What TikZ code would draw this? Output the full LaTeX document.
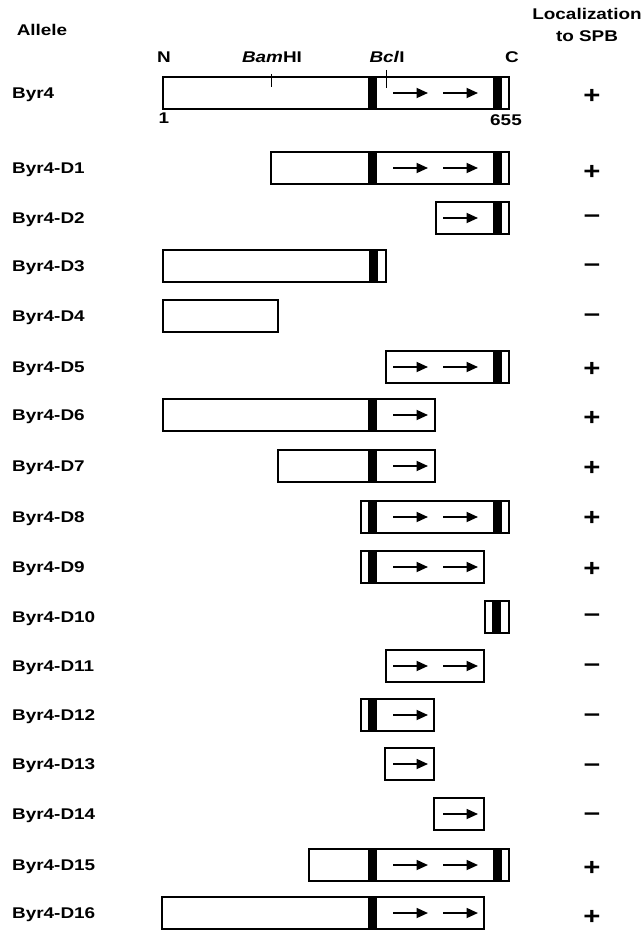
\documentclass[tikz,border=0pt]{standalone}
\usepackage{fontspec}
\setmainfont{Liberation Sans}
\newfontfamily\labfam[FakeStretch=1.22]{Liberation Sans}
\usetikzlibrary{arrows.meta}
\newcommand\labsize{\labfam\bfseries\fontsize{15.5}{18}\selectfont}
\newcommand\signsize{\labfam\bfseries\fontsize{24}{26}\selectfont}
\tikzset{
  lab/.style={anchor=base west, inner sep=0pt, font=\labsize},
  toplab/.style={anchor=base, inner sep=0pt, font=\labsize},
  sgn/.style={inner sep=0pt, font=\signsize},
  dom/.style={draw=black, line width=1.1pt, fill=white},
  blk/.style={fill=black, draw=none},
  arr/.style={-{Triangle[length=11.5pt,width=10pt]}, line width=1.8pt},
  tick/.style={line width=1pt}
}
% #1 centre y, #2 left x, #3 right x
\newcommand\dombox[3]{\draw[dom] (#2,#1-16) rectangle (#3,#1+16);}
% #1 centre y, #2 left x of black band
\newcommand\band[2]{\fill[blk] (#2,#1-16) rectangle (#2+8,#1+16);\draw[dom,fill=none] (#2,#1-16) -- (#2,#1+16);}
\newcommand\arrA[1]{\draw[arr] (393,#1) -- (428,#1);}
\newcommand\arrB[1]{\draw[arr] (443,#1) -- (478,#1);}
\newcommand\rowlab[3]{\node[lab] (#1) at (12,#2+5.5) {#3};}
\begin{document}
\begin{tikzpicture}[x=1pt,y=-1pt]
\useasboundingbox (0,0) rectangle (642,931);
\fill[white] (0,0) rectangle (642,931);

% headers
\node[toplab] (hallele) at (42,36) {Allele};
\node[toplab] (hloc) at (587,20) {Localization};
\node[toplab] (hspb) at (587,42) {to SPB};

% top labels of Byr4
\node[toplab] (nN) at (164,63) {N};
\node[toplab] (nBam) at (272,63) {\textit{Bam}HI};
\node[toplab] (nBcl) at (387,63) {\textit{Bcl}I};
\node[toplab] (nC) at (512,63) {C};
\node[toplab] (n1) at (164,124) {1};
\node[toplab] (n655) at (506,126) {655};

% Byr4
\rowlab{l0}{93}{Byr4}
\dombox{93}{163}{509}\band{93}{369}\band{93}{494}\arrA{93}\arrB{93}
\draw[tick] (271,74) -- (271,87);
\draw[tick] (386,70) -- (386,88);
\node[sgn] (s0) at (592,96) {+};

% D1
\rowlab{l1}{168}{Byr4-D1}
\dombox{168}{271}{509}\band{168}{369}\band{168}{494}\arrA{168}\arrB{168}
\node[sgn] (s1) at (592,172) {+};

% D2
\rowlab{l2}{218}{Byr4-D2}
\dombox{218}{436}{509}\band{218}{494}\arrB{218}
\node[sgn] (s2) at (592,219) {–};

% D3
\rowlab{l3}{266}{Byr4-D3}
\dombox{266}{163}{386}\band{266}{370}
\node[sgn] (s3) at (592,268) {–};

% D4
\rowlab{l4}{316}{Byr4-D4}
\dombox{316}{163}{278}
\node[sgn] (s4) at (592,318) {–};

% D5
\rowlab{l5}{367}{Byr4-D5}
\dombox{367}{386}{509}\band{367}{494}\arrA{367}\arrB{367}
\node[sgn] (s5) at (592,369) {+};

% D6
\rowlab{l6}{415}{Byr4-D6}
\dombox{415}{163}{435}\band{415}{369}\arrA{415}
\node[sgn] (s6) at (592,418) {+};

% D7
\rowlab{l7}{466}{Byr4-D7}
\dombox{466}{278}{435}\band{466}{369}\arrA{466}
\node[sgn] (s7) at (592,468) {+};

% D8
\rowlab{l8}{517}{Byr4-D8}
\dombox{517}{361}{509}\band{517}{369}\band{517}{494}\arrA{517}\arrB{517}
\node[sgn] (s8) at (592,518) {+};

% D9
\rowlab{l9}{567}{Byr4-D9}
\dombox{567}{361}{484}\band{567}{369}\arrA{567}\arrB{567}
\node[sgn] (s9) at (592,569) {+};

% D10
\rowlab{l10}{617}{Byr4-D10}
\dombox{617}{485}{509}\band{617}{493}
\node[sgn] (s10) at (592,618) {–};

% D11
\rowlab{l11}{666}{Byr4-D11}
\dombox{666}{386}{484}\arrA{666}\arrB{666}
\node[sgn] (s11) at (592,668) {–};

% D12
\rowlab{l12}{715}{Byr4-D12}
\dombox{715}{361}{434}\band{715}{369}\arrA{715}
\node[sgn] (s12) at (592,718) {–};

% D13
\rowlab{l13}{764}{Byr4-D13}
\dombox{764}{385}{434}\arrA{764}
\node[sgn] (s13) at (592,768) {–};

% D14
\rowlab{l14}{814}{Byr4-D14}
\dombox{814}{434}{484}\arrB{814}
\node[sgn] (s14) at (592,817) {–};

% D15
\rowlab{l15}{865}{Byr4-D15}
\dombox{865}{309}{509}\band{865}{369}\band{865}{494}\arrA{865}\arrB{865}
\node[sgn] (s15) at (592,868) {+};

% D16
\rowlab{l16}{913}{Byr4-D16}
\dombox{913}{162}{484}\band{913}{369}\arrA{913}\arrB{913}
\node[sgn] (s16) at (592,917) {+};
\end{tikzpicture}
\end{document}
